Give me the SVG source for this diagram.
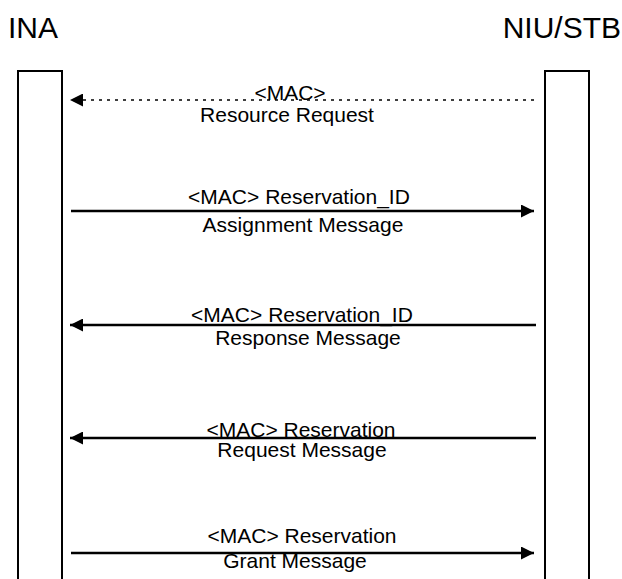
<svg xmlns="http://www.w3.org/2000/svg" width="622" height="579" viewBox="0 0 622 579">
<style>
.hdr{font-family:"Liberation Sans",Arial,sans-serif;font-size:30px;fill:#000}
.lbl{font-family:"Liberation Sans",Arial,sans-serif;font-size:21px;fill:#000;text-anchor:middle}
.box{fill:#fff;stroke:#000;stroke-width:2}
.msg{stroke:#000;stroke-width:2.5;fill:none}
.dash{stroke:#000;stroke-width:1.5;fill:none;stroke-dasharray:3 5}
</style>
<defs>
<marker id="ah" viewBox="0 0 13 13" refX="13" refY="6.5" markerWidth="13" markerHeight="13" markerUnits="userSpaceOnUse" orient="auto">
<path d="M0,0 L13,6.5 L0,13 Z" fill="#000"/>
</marker>
</defs>
<rect width="622" height="579" fill="#fff"/>
<g id="ina">
<text class="hdr" x="8" y="38">INA</text>
<rect class="box" x="18" y="71" width="44" height="540"/>
</g>
<g id="niu">
<text class="hdr" x="621" y="38" text-anchor="end">NIU/STB</text>
<rect class="box" x="545" y="71" width="44" height="540"/>
</g>
<g id="connectors">
<line class="dash" x1="534" y1="100" x2="70" y2="100" marker-end="url(#ah)"/>
<line class="msg" x1="71" y1="211" x2="534" y2="211" marker-end="url(#ah)"/>
<line class="msg" x1="536" y1="325" x2="70" y2="325" marker-end="url(#ah)"/>
<line class="msg" x1="536" y1="438" x2="70" y2="438" marker-end="url(#ah)"/>
<line class="msg" x1="71" y1="553" x2="534" y2="553" marker-end="url(#ah)"/>
</g>
<g id="labels">
<text class="lbl" x="290" y="100">&lt;MAC&gt;</text>
<text class="lbl" x="287" y="122">Resource Request</text>
<text class="lbl" x="299" y="204">&lt;MAC&gt; Reservation_ID</text>
<text class="lbl" x="303" y="232">Assignment Message</text>
<text class="lbl" x="302" y="322">&lt;MAC&gt; Reservation_ID</text>
<text class="lbl" x="308" y="345">Response Message</text>
<text class="lbl" x="301" y="437">&lt;MAC&gt; Reservation</text>
<text class="lbl" x="302" y="457">Request Message</text>
<text class="lbl" x="302" y="543">&lt;MAC&gt; Reservation</text>
<text class="lbl" x="295" y="568">Grant Message</text>
</g>
</svg>
